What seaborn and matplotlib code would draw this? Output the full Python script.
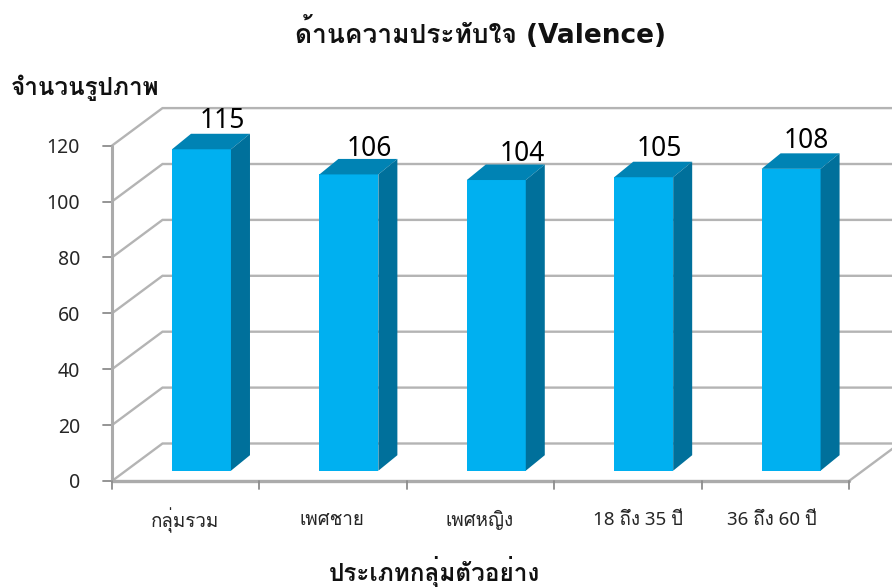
import matplotlib
matplotlib.use('Agg')
import matplotlib.pyplot as plt
import seaborn as sns
import pandas as pd

categories = ['กลุ่มรวม', 'เพศชาย', 'เพศหญิง', '18 ถึง 35 ปี', '36 ถึง 60 ปี']
values = [115, 106, 104, 105, 108]
y_ticks = [0, 20, 40, 60, 80, 100, 120]
title = 'ด้านความประทับใจ (Valence)'
y_title = 'จำนวนรูปภาพ'
x_title = 'ประเภทกลุ่มตัวอย่าง'

W, H = 892, 587
FONT = ['Noto Sans', 'Loma', 'DejaVu Sans']
BOLD = ['DejaVu Sans', 'Loma']
sns.set_theme(style='white')
plt.rcParams['font.family'] = FONT

FRONT, TOP, SIDE = '#00B0F0', '#0083B4', '#00709B'
GRID = '#B4B4B4'
AXIS = '#ABABAB'

fig = plt.figure(figsize=(W / 100, H / 100), dpi=100, facecolor='white')
X_STEP = 147.4      # px per category
Y_UNIT = 2.795      # px per value unit
left_px, base_px = 127.8, 470.7
ax = fig.add_axes([left_px / W, (H - base_px) / H, 5 * X_STEP / W, 120 * Y_UNIT / H])

df = pd.DataFrame({'cat': categories, 'val': values})
sns.barplot(data=df, x='cat', y='val', color=FRONT, saturation=1, width=0.4, ax=ax, zorder=3,
            linewidth=0, edgecolor=FRONT)
ax.set_xlim(-0.5, 4.5)
ax.set_ylim(0, 120)
ax.axis('off')


def px(dx, dy=0):
    return dx / X_STEP, dy / Y_UNIT


# box geometry, in pixels relative to the first category edge / value 0
ax0 = -0.5 + px(112 - left_px)[0]
ay0 = px(0, -(481 - base_px))[1]
wx, wy = px(50.5, 37.5)
xr = ax0 + 5
far = xr + wx

for v in y_ticks:
    ax.plot([ax0, ax0 + wx, far], [ay0 + v, ay0 + v + wy, ay0 + v + wy],
            color=GRID, lw=1.7, clip_on=False, zorder=1, solid_joinstyle='miter')
    tx, _ = px(-9)
    ax.plot([ax0 + tx, ax0], [ay0 + v, ay0 + v], color='#8C8C8C', lw=1.3, clip_on=False, zorder=2)
    ax.text(ax0 + px(-32)[0], ay0 + v, str(v), ha='right', va='center_baseline', fontsize=14,
            color='#262626', clip_on=False)

# axis lines, floor edges and category ticks
ax.plot([ax0, ax0], [ay0, ay0 + 120], color=AXIS, lw=2.2, clip_on=False, zorder=2)
ax.plot([ax0, xr], [ay0, ay0], color=AXIS, lw=2.4, clip_on=False, zorder=2)
ax.plot([xr, far], [ay0, ay0 + wy], color=GRID, lw=1.7, clip_on=False, zorder=1)
for i in range(6):
    ax.plot([ax0 + i, ax0 + i], [ay0, ay0 + px(0, -8)[1]], color='#8C8C8C', lw=1.3,
            clip_on=False, zorder=2)

# depth faces built from the bars seaborn drew
dx, dy = px(19, 15.5)
for bar in ax.patches[:len(values)]:
    x0, x1, h = bar.get_x(), bar.get_x() + bar.get_width(), bar.get_height()
    ax.fill([x0, x1, x1 + dx, x0 + dx], [h, h, h + dy, h + dy], color=TOP, lw=0, zorder=3, clip_on=False)
    ax.fill([x1, x1 + dx, x1 + dx, x1], [0, dy, h + dy, h], color=SIDE, lw=0, zorder=3, clip_on=False)
    bar.set_clip_on(False)

# value labels
label_dx = [20.5, 20.5, 26, 15.5, 15]
label_dy = [16, 13, 14, 16, 16]
for i, v in enumerate(values):
    ax.text(i + px(label_dx[i])[0], v + dy + px(0, label_dy[i])[1], str(v), ha='center',
            va='center_baseline', fontsize=19, color='black', clip_on=False)

# category labels
cat_px = [185, 332, 480, 638, 772]
for name, cx in zip(categories, cat_px):
    fig.text(cx / W, 1 - 520 / H, name, ha='center', va='center', fontsize=13.5, color='#262626')

fig.text(481 / W, 1 - 33 / H, title, ha='center', va='center', fontsize=19, fontweight='bold',
         family=BOLD, color='#111111')
fig.text(11 / W, 1 - 88 / H, y_title, ha='left', va='center', fontsize=17.5, fontweight='bold',
         family=BOLD, color='#111111')
fig.text(435 / W, 1 - 571 / H, x_title, ha='center', va='center', fontsize=17.5, fontweight='bold',
         family=BOLD, color='#111111')

fig.savefig('out.png', dpi=100, facecolor='white')
